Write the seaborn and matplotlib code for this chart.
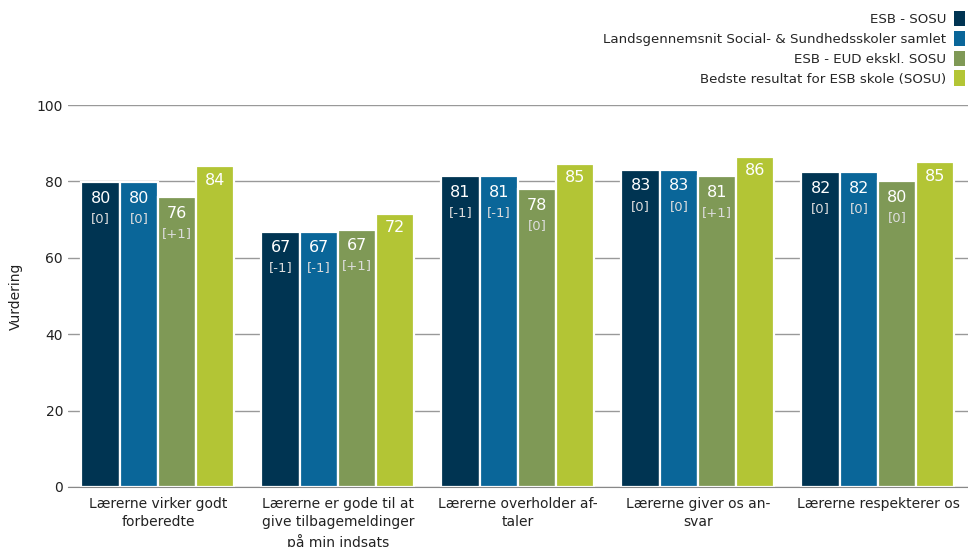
import pandas as pd
import matplotlib.pyplot as plt
import seaborn as sns
from matplotlib.patches import Patch

categories = ["Lærerne virker godt\nforberedte",
              "Lærerne er gode til at\ngive tilbagemeldinger\npå min indsats",
              "Lærerne overholder af-\ntaler",
              "Lærerne giver os an-\nsvar",
              "Lærerne respekterer os"]
series = ["ESB - SOSU",
          "Landsgennemsnit Social- & Sundhedsskoler samlet",
          "ESB - EUD ekskl. SOSU",
          "Bedste resultat for ESB skole (SOSU)"]
esb_sosu = [79.8, 66.8, 81.4, 83.0, 82.4]
landsgns = [79.8, 66.8, 81.4, 83.0, 82.4]
esb_eud = [75.9, 67.4, 78.0, 81.4, 80.1]
bedste = [84.0, 71.6, 84.6, 86.4, 85.0]
change_sosu = ["[0]", "[-1]", "[-1]", "[0]", "[0]"]
change_lands = ["[0]", "[-1]", "[-1]", "[0]", "[0]"]
change_eud = ["[+1]", "[+1]", "[0]", "[+1]", "[0]"]
colors = ["#003452", "#0A6699", "#7F9956", "#B3C535"]

values = [esb_sosu, landsgns, esb_eud, bedste]
changes = [change_sosu, change_lands, change_eud, None]

rows = []
for s, vals in zip(series, values):
    for c, v in zip(categories, vals):
        rows.append({"kategori": c, "serie": s, "vaerdi": v})
df = pd.DataFrame(rows)

sns.set_style("white")
plt.rcParams['font.family'] = ['DejaVu Sans']
fig = plt.figure(figsize=(9.68, 5.47), dpi=100)
ax = fig.add_axes([0.0702, 0.1097, 0.9298, 0.6983])

sns.barplot(data=df, x="kategori", y="vaerdi", hue="serie", palette=colors, saturation=1,
            width=0.85, edgecolor="white", linewidth=1.6, legend=False, ax=ax)

for i, cont in enumerate(ax.containers):
    for j, bar in enumerate(cont):
        x = bar.get_x() + bar.get_width() / 2
        h = bar.get_height()
        if changes[i] is None:
            ax.annotate(f"{round(values[i][j])}", (x, h), xytext=(0, -10), textcoords="offset points",
                        ha="center", va="center", color="white", fontsize=11.5)
        else:
            ax.annotate(f"{round(values[i][j])}", (x, h), xytext=(0, -11.5), textcoords="offset points",
                        ha="center", va="center", color="white", fontsize=11.5)
            ax.annotate(changes[i][j], (x, h), xytext=(0, -26), textcoords="offset points",
                        ha="center", va="center", color="#dddddd", fontsize=9.5)

ax.set_ylim(0, 100)
ax.set_xlim(-0.5, 4.5)
ax.set_yticks([0, 20, 40, 60, 80, 100])
ax.yaxis.grid(True, color="#999999", linewidth=1)
ax.set_axisbelow(True)
for sp in ["top", "right", "left"]:
    ax.spines[sp].set_visible(False)
ax.spines["bottom"].set_color("#888888")
ax.tick_params(axis="both", length=0, labelsize=10, colors="#222222")
ax.tick_params(axis="x", pad=7)
for lab in ax.get_xticklabels():
    lab.set_linespacing(1.4)
ax.set_xlabel("")
ax.set_ylabel("Vurdering", fontsize=10, color="#222222", labelpad=10)

handles = [Patch(facecolor=c, edgecolor="none") for c in colors]
fig.legend(handles, series, loc="upper right", bbox_to_anchor=(1.0, 1 - 8 / 547), frameon=False,
           markerfirst=False, fontsize=9.6, handlelength=0.85, handleheight=1.4,
           handletextpad=0.6, labelspacing=0.34, borderaxespad=0, borderpad=0.2)

fig.savefig("out.png", dpi=100)
